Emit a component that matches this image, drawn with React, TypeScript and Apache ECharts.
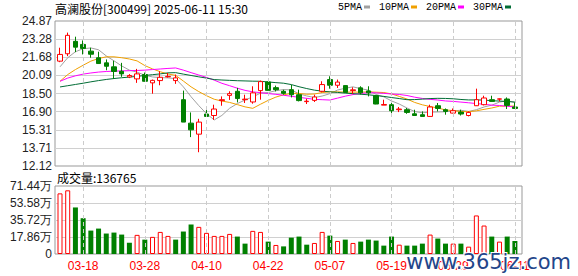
import React, { useEffect, useRef } from "react";
import * as echarts from "echarts";

const dates = [
  "03-13","03-14","03-17","03-18","03-19","03-20","03-21","03-24","03-25","03-26",
  "03-27","03-28","03-31","04-01","04-02","04-03","04-07","04-08","04-09","04-10",
  "04-11","04-14","04-15","04-16","04-17","04-18","04-21","04-22","04-23","04-24",
  "04-25","04-28","04-29","04-30","05-06","05-07","05-08","05-09","05-12","05-13",
  "05-14","05-15","05-16","05-19","05-20","05-21","05-22","05-23","05-26","05-27",
  "05-28","05-29","05-30","06-03","06-04","06-05","06-06","06-09","06-10","06-11",
];

const opens = [
  21.34, 21.99, 23.08, 22.81, 22.22, 21.64, 21.19, 20.84, 20.45, 19.95,
  19.78, 20.16, 19.43, 19.63, 19.96, 19.63, 17.95, 15.89, 14.92, 16.69,
  16.56, 17.87, 18.33, 18.69, 17.95, 17.75, 18.75, 19.51, 19.01, 18.69,
  18.83, 18.39, 17.78, 17.89, 18.69, 19.72, 19.22, 19.19, 18.75, 18.99,
  18.72, 18.30, 17.47, 17.51, 17.07, 17.07, 16.71, 16.63, 16.48, 17.42,
  17.07, 16.77, 16.86, 16.56, 17.42, 17.51, 17.95, 18.0, 18.01, 17.31,
];
const closes = [
  21.93, 23.61, 22.57, 22.46, 21.95, 21.13, 20.89, 20.43, 20.22, 20.08,
  20.22, 19.57, 19.65, 19.92, 20.0, 19.87, 15.98, 15.30, 15.98, 16.48,
  17.13, 17.95, 18.48, 18.05, 18.0, 18.55, 19.54, 18.77, 18.83, 18.51,
  18.39, 17.87, 17.82, 18.19, 19.28, 19.22, 19.50, 18.59, 18.82, 18.55,
  18.55, 17.57, 17.53, 16.98, 17.13, 16.83, 16.56, 16.48, 17.31, 17.18,
  16.92, 16.98, 16.69, 16.83, 17.95, 18.10, 17.80, 18.02, 17.45, 17.18,
];
const lows = [
  21.25, 21.78, 22.13, 21.93, 21.64, 21.10, 20.54, 19.78, 19.96, 19.85,
  19.43, 19.55, 18.48, 19.22, 19.90, 19.34, 15.98, 14.66, 13.33, 16.48,
  16.18, 17.42, 17.93, 17.71, 17.66, 17.60, 17.95, 18.75, 18.68, 18.39,
  18.15, 17.80, 17.57, 17.75, 18.60, 18.92, 18.98, 18.55, 18.46, 18.40,
  18.24, 17.55, 17.47, 16.77, 16.86, 16.71, 16.56, 16.48, 16.45, 16.92,
  16.63, 16.75, 16.56, 16.48, 17.40, 17.45, 17.78, 17.80, 17.13, 17.18,
];
const highs = [
  22.52, 23.85, 23.49, 23.16, 22.52, 22.17, 21.49, 21.37, 21.19, 20.20,
  20.66, 20.34, 19.72, 20.45, 20.30, 20.16, 18.75, 16.83, 16.27, 17.36,
  17.51, 18.24, 18.69, 18.99, 18.39, 19.13, 19.63, 19.55, 19.19, 18.83,
  19.25, 18.83, 18.04, 18.39, 19.57, 20.01, 19.72, 19.20, 19.04, 19.13,
  19.13, 18.33, 17.95, 17.66, 17.31, 17.22, 17.07, 16.92, 17.51, 17.66,
  17.18, 17.18, 17.07, 16.92, 18.92, 18.30, 18.30, 18.05, 18.15, 17.71,
];

// volume in 万 (10k lots)
const volumes = [
  63.7, 66.9, 48.9, 37.6, 24.6, 26.7, 21.5, 22.5, 20.4, 11.9,
  20.1, 15.1, 18.0, 23.2, 19.0, 15.1, 23.6, 31.0, 28.5, 22.2,
  19.0, 19.0, 21.1, 18.3, 10.9, 24.3, 23.2, 13.0, 9.5, 8.0,
  17.2, 18.3, 9.8, 11.6, 23.2, 19.3, 13.7, 15.1, 11.6, 13.0,
  15.1, 14.1, 8.8, 18.3, 9.8, 8.8, 8.8, 10.9, 20.4, 16.2,
  10.9, 10.9, 10.9, 7.7, 40.5, 29.9, 18.3, 13.0, 18.3, 13.68,
];

const ma5 = [
  20.84, 21.64, 22.17, 22.43, 22.50, 22.34, 21.80, 21.37, 20.92, 20.55,
  20.37, 20.10, 19.95, 19.89, 19.87, 19.80, 19.08, 18.21, 17.43, 16.72,
  16.17, 16.57, 17.20, 17.61, 17.92, 18.20, 18.52, 18.58, 18.74, 18.84,
  18.81, 18.47, 18.28, 18.14, 18.27, 18.48, 18.80, 18.96, 19.08, 18.92,
  18.79, 18.41, 18.20, 17.84, 17.57, 17.22, 16.91, 16.80, 16.86, 16.87,
  16.89, 16.97, 17.02, 16.92, 17.07, 17.31, 17.47, 17.74, 17.86, 17.71,
];
const ma10 = [
  19.57, 20.16, 20.60, 20.98, 21.34, 21.57, 21.72, 21.72, 21.64, 21.53,
  21.36, 20.95, 20.66, 20.41, 20.21, 20.09, 19.59, 19.08, 18.66, 18.30,
  17.99, 17.83, 17.71, 17.52, 17.32, 17.19, 17.55, 17.89, 18.18, 18.38,
  18.51, 18.50, 18.43, 18.45, 18.58, 18.64, 18.64, 18.62, 18.62, 18.61,
  18.64, 18.61, 18.58, 18.46, 18.24, 18.01, 17.71, 17.50, 17.35, 17.22,
  17.05, 16.99, 16.91, 16.89, 16.97, 17.10, 17.22, 17.38, 17.39, 17.39,
];
const ma20 = [
  19.57, 19.85, 20.05, 20.20, 20.30, 20.38, 20.43, 20.46, 20.48, 20.50,
  20.52, 20.55, 20.60, 20.65, 20.70, 20.74, 20.55, 20.33, 20.12, 19.91,
  19.67, 19.39, 19.18, 18.96, 18.77, 18.64, 18.57, 18.49, 18.42, 18.34,
  18.25, 18.16, 18.07, 17.98, 17.95, 17.92, 18.09, 18.26, 18.40, 18.50,
  18.57, 18.55, 18.51, 18.45, 18.41, 18.32, 18.17, 18.06, 17.98, 17.92,
  17.84, 17.80, 17.74, 17.68, 17.61, 17.55, 17.47, 17.44, 17.37, 17.31,
];
const ma30 = [
  19.07, 19.18, 19.29, 19.40, 19.52, 19.63, 19.73, 19.81, 19.88, 19.94,
  20.00, 20.08, 20.15, 20.22, 20.31, 20.33, 20.20, 20.08, 19.96, 19.85,
  19.72, 19.68, 19.65, 19.62, 19.60, 19.58, 19.57, 19.51, 19.45, 19.40,
  19.28, 19.09, 18.93, 18.79, 18.70, 18.64, 18.59, 18.53, 18.48, 18.43,
  18.38, 18.31, 18.24, 18.14, 18.05, 17.95, 17.96, 18.00, 18.05, 18.07,
  18.06, 18.03, 17.97, 17.93, 17.93, 17.92, 17.86, 17.83, 17.79, 17.74,
];

const priceTicks = ["12.12", "13.71", "15.31", "16.90", "18.50", "20.09", "21.68", "23.28", "24.87"];
const priceMin = 12.12;
const priceMax = 24.87;
const volTicks = ["0", "17.86万", "35.72万", "53.58万", "71.44万"];
const volMax = 71.44;
const labelDates = ["03-18", "03-28", "04-10", "04-22", "05-07", "05-19", "05-29", "06-11"];

const headerText = "高澜股份[300499] 2025-06-11 15:30";
const volumeText = "成交量:136765";
const watermark = "www.365jz.com";

const RED = "#ff0000";
const GREEN = "#008000";
const MA_COLORS = ["#a0a0a0", "#f0a000", "#ff00ff", "#006c35"];
const CJK = "'Noto Sans CJK SC', sans-serif";
const LAT = "'Liberation Sans', Arial, sans-serif";
const MONO = "'Liberation Mono', 'DejaVu Sans Mono', monospace";

export default function App() {
  const ref = useRef<HTMLDivElement>(null);
  useEffect(() => {
    document.body.style.margin = "0";
    const chart = echarts.init(ref.current!, null, { renderer: "svg" });

    const candleData = dates.map((_, i) => [opens[i], closes[i], lows[i], highs[i]]);
    const volData = volumes.map((v, i) => {
      const up = i === 0 ? true : closes[i] > closes[i - 1];
      return {
        value: v,
        itemStyle: up
          ? { color: "#ffffff", borderColor: RED, borderWidth: 1 }
          : { color: GREEN, borderColor: GREEN, borderWidth: 0 },
      };
    });
    const markData = labelDates.map((d) => ({ xAxis: d }));
    const markLineStyle = {
      silent: true,
      symbol: ["none", "none"],
      label: { show: false },
      lineStyle: { color: "#cccccc", type: [4, 3], width: 1 },
      data: markData,
    };
    const blanks = dates.map(() => "-");

    const gridLeftData = 56.15;
    const gridWidthData = 462.6;

    const option: any = {
      animation: false,
      backgroundColor: "#ffffff",
      title: {
        text: headerText,
        left: 55,
        top: 2,
        padding: 0,
        textStyle: { fontSize: 12, fontWeight: "normal", color: "#000", fontFamily: CJK },
      },
      legend: {
        data: ["5PMA", "10PMA", "20PMA", "30PMA"],
        right: 67,
        top: 2,
        align: "right",
        icon: "rect",
        itemWidth: 6,
        itemHeight: 3,
        itemGap: 9,
        padding: 0,
        textStyle: { fontSize: 10, color: "#000", fontFamily: MONO, padding: [0, -3, 0, 0] },
      },
      graphic: [
        {
          type: "text",
          left: 57,
          top: 171,
          style: { text: volumeText, fontSize: 12, fill: "#000", fontFamily: CJK },
        },
        {
          type: "text",
          right: 6,
          top: 250,
          z: 100,
          style: {
            text: watermark,
            fontSize: 21,
            fill: "#23458a",
            stroke: "#ffffff",
            lineWidth: 2,
            fontFamily: "'DejaVu Sans', sans-serif",
          },
        },
      ],
      grid: [
        { left: 55, right: 56, top: 21, height: 145, show: true, borderColor: "#999", borderWidth: 1, backgroundColor: "transparent" },
        { left: gridLeftData, width: gridWidthData, top: 21, height: 145 },
        { left: 55, right: 56, top: 186, height: 68, show: true, borderColor: "#999", borderWidth: 1, backgroundColor: "transparent" },
        { left: gridLeftData, width: gridWidthData, top: 186, height: 68 },
      ],
      xAxis: [
        { type: "value", gridIndex: 0, min: 0, max: 1, show: false },
        {
          type: "category",
          gridIndex: 1,
          data: dates,
          boundaryGap: true,
          axisLine: { show: false },
          axisTick: { show: false },
          axisLabel: { show: false },
          splitLine: { show: false },
        },
        { type: "value", gridIndex: 2, min: 0, max: 1, show: false },
        {
          type: "category",
          gridIndex: 3,
          data: dates,
          boundaryGap: true,
          axisLine: { show: false },
          axisTick: { show: false },
          splitLine: { show: false },
          axisLabel: {
            show: true,
            interval: (_i: number, v: string) => labelDates.includes(v),
            color: RED,
            fontSize: 12,
            fontFamily: LAT,
            margin: 6,
          },
        },
      ],
      yAxis: [
        {
          type: "value",
          gridIndex: 0,
          min: 0,
          max: priceTicks.length - 1,
          interval: 1,
          axisLine: { show: false },
          axisTick: { show: false },
          axisLabel: {
            formatter: (v: number) => priceTicks[Math.round(v)],
            color: "#222",
            fontSize: 12,
            fontFamily: LAT,
            margin: 3,
          },
          splitLine: { show: true, showMinLine: false, showMaxLine: false, lineStyle: { color: "#d0d0d0", width: 1 } },
        },
        { type: "value", gridIndex: 1, min: priceMin, max: priceMax, show: false, splitLine: { show: false } },
        {
          type: "value",
          gridIndex: 2,
          min: 0,
          max: volTicks.length - 1,
          interval: 1,
          axisLine: { show: false },
          axisTick: { show: false },
          axisLabel: {
            formatter: (v: number) => volTicks[Math.round(v)],
            color: "#222",
            fontSize: 12,
            fontFamily: LAT,
            margin: 3,
          },
          splitLine: { show: true, showMinLine: false, showMaxLine: false, lineStyle: { color: "#d0d0d0", width: 1 } },
        },
        { type: "value", gridIndex: 3, min: 0, max: volMax, show: false, splitLine: { show: false } },
      ],
      series: [
        {
          type: "line",
          name: "grid-price",
          xAxisIndex: 1,
          yAxisIndex: 1,
          data: blanks,
          z: 1,
          symbol: "none",
          markLine: markLineStyle,
        },
        {
          type: "line",
          name: "grid-vol",
          xAxisIndex: 3,
          yAxisIndex: 3,
          data: blanks,
          z: 1,
          symbol: "none",
          markLine: markLineStyle,
        },
        {
          type: "line",
          name: "5PMA",
          xAxisIndex: 1,
          yAxisIndex: 1,
          data: ma5,
          symbol: "none",
          lineStyle: { width: 1, color: MA_COLORS[0] },
          itemStyle: { color: MA_COLORS[0] },
          z: 3,
        },
        {
          type: "line",
          name: "10PMA",
          xAxisIndex: 1,
          yAxisIndex: 1,
          data: ma10,
          symbol: "none",
          lineStyle: { width: 1, color: MA_COLORS[1] },
          itemStyle: { color: MA_COLORS[1] },
          z: 3,
        },
        {
          type: "line",
          name: "20PMA",
          xAxisIndex: 1,
          yAxisIndex: 1,
          data: ma20,
          symbol: "none",
          lineStyle: { width: 1, color: MA_COLORS[2] },
          itemStyle: { color: MA_COLORS[2] },
          z: 3,
        },
        {
          type: "line",
          name: "30PMA",
          xAxisIndex: 1,
          yAxisIndex: 1,
          data: ma30,
          symbol: "none",
          lineStyle: { width: 1, color: MA_COLORS[3] },
          itemStyle: { color: MA_COLORS[3] },
          z: 3,
        },
        {
          type: "candlestick",
          name: "K",
          xAxisIndex: 1,
          yAxisIndex: 1,
          data: candleData,
          barWidth: 5,
          z: 4,
          itemStyle: {
            color: "#ffffff",
            color0: GREEN,
            borderColor: RED,
            borderColor0: GREEN,
            borderWidth: 1,
          },
        },
        {
          type: "bar",
          name: "VOL",
          xAxisIndex: 3,
          yAxisIndex: 3,
          data: volData,
          barWidth: 5,
          z: 4,
        },
      ],
    };
    chart.setOption(option);
    return () => chart.dispose();
  }, []);
  return <div ref={ref} style={{ position: "fixed", left: 0, top: 0, width: 578, height: 276 }} />;
}
